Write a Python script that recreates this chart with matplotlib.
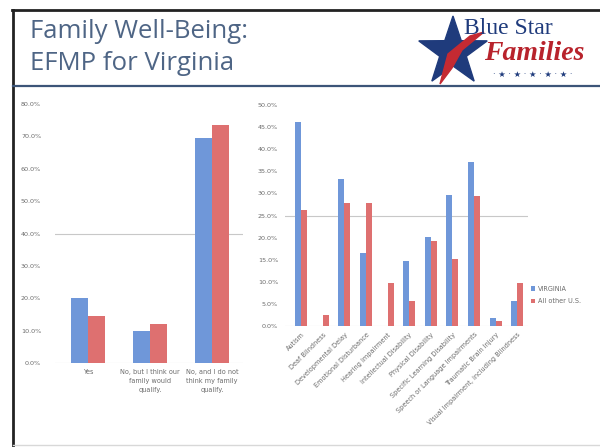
import matplotlib
matplotlib.use("Agg")
import matplotlib.pyplot as plt
import numpy as np
from matplotlib.patches import Polygon

# ---------------- data ----------------
left_categories = ["Yes", "No, but I think our\nfamily would\nqualify.",
                   "No, and I do not\nthink my family\nqualify."]
left_virginia = [20.0, 10.0, 69.5]
left_other = [14.5, 12.0, 73.5]
left_ticks = [0, 10, 20, 30, 40, 50, 60, 70, 80]

right_categories = ["Autism", "Deaf Blindness", "Developmental Delay",
                    "Emotional Disturbance", "Hearing Impairment",
                    "Intellectual Disability", "Physical Disability",
                    "Specific Learning Disability",
                    "Speech or Language Impairments",
                    "Traumatic Brain Injury",
                    "Visual Impairment, including Blindness"]
right_virginia = [46.2, 0.0, 33.3, 16.6, 0.0, 14.8, 20.2, 29.6, 37.1, 1.7, 5.7]
right_other = [26.3, 2.5, 27.8, 27.8, 9.7, 5.6, 19.3, 15.2, 29.4, 1.2, 9.7]
right_ticks = [0, 5, 10, 15, 20, 25, 30, 35, 40, 45, 50]

series_names = ["VIRGINIA", "All other U.S."]

BLUE = "#6f97d9"
RED = "#de7070"
TXT = "#6b6b6b"
W, H = 600, 447

fig = plt.figure(figsize=(6, 4.47), dpi=100)
fig.patch.set_facecolor("white")

def ax_rect(x0, y0, x1, y1):
    return [x0 / W, 1 - y1 / H, (x1 - x0) / W, (y1 - y0) / H]

# --------- decoration overlay (pixel coords) ---------
deco = fig.add_axes([0, 0, 1, 1], zorder=0)
deco.set_xlim(0, W)
deco.set_ylim(H, 0)
deco.axis("off")
deco.plot([12, 600], [10, 10], color="#222222", lw=2.0)
deco.plot([13, 13], [10, 447], color="#222222", lw=2.0)
deco.plot([13, 600], [86, 86], color="#3c5578", lw=1.6)
deco.plot([13, 600], [445, 445], color="#d8d8d8", lw=1.0)

fig.text(30 / W, 1 - 31 / H, "Family Well-Being:", family="Open Sans",
         fontsize=18.5, color="#4e6585", va="center", ha="left")
fig.text(30 / W, 1 - 63 / H, "EFMP for Virginia", family="Open Sans",
         fontsize=18.5, color="#4e6585", va="center", ha="left")

# logo star
cx, cy, ro, ri = 453, 52, 36, 14
pts = []
for k in range(10):
    ang = np.pi / 2 + k * np.pi / 5
    r = ro if k % 2 == 0 else ri
    pts.append((cx + r * np.cos(ang), cy - r * np.sin(ang)))
deco.add_patch(Polygon(pts, closed=True, color="#1f3b7c", zorder=1))
deco.add_patch(Polygon([(440, 84), (448, 54), (470, 36), (484, 32),
                        (462, 50), (452, 68)], closed=True,
                       color="#c42a32", zorder=2))
fig.text(464 / W, 1 - 29 / H, "Blue Star", family="Liberation Serif",
         fontsize=17, color="#1f3b7c", va="center", ha="left")
fig.text(484 / W, 1 - 53 / H, "Families", family="Liberation Serif",
         fontsize=20, color="#b8232c", va="center", ha="left",
         fontweight="bold", fontstyle="italic")
fig.text(533 / W, 1 - 74 / H,
         "\u00b7 \u2605 \u00b7 \u2605 \u00b7 \u2605 \u00b7 \u2605 \u00b7 \u2605 \u00b7",
         family="DejaVu Sans", fontsize=6, color="#1f3b7c",
         va="center", ha="center")

# ---------------- left chart ----------------
axL = fig.add_axes(ax_rect(55, 104, 243, 363), zorder=2)
x = np.arange(len(left_categories))
bw = 0.275
axL.bar(x - bw / 2, left_virginia, bw, color=BLUE, label=series_names[0])
axL.bar(x + bw / 2, left_other, bw, color=RED, label=series_names[1])
axL.set_ylim(0, 80)
axL.set_xlim(-0.53, 2.5)
axL.set_yticks(left_ticks)
axL.set_yticklabels([f"{v:.1f}%" for v in left_ticks])
axL.axhline(40, color="#c8c8c8", lw=0.8, zorder=0)
axL.axhline(0, color="#d0d0d0", lw=0.8, zorder=0)
axL.set_xticks(x)
axL.set_xticklabels(left_categories, fontsize=4.7, color=TXT,
                    linespacing=1.6)
axL.tick_params(axis="y", labelsize=4.6, labelcolor=TXT, length=0, pad=10)
axL.tick_params(axis="x", length=0, pad=4)
for s in axL.spines.values():
    s.set_visible(False)
axL.patch.set_alpha(0)

# ---------------- right chart ----------------
axR = fig.add_axes(ax_rect(285, 105, 528, 326), zorder=2)
xr = np.arange(len(right_categories))
bwr = 0.28
axR.bar(xr - bwr / 2, right_virginia, bwr, color=BLUE, label=series_names[0])
axR.bar(xr + bwr / 2, right_other, bwr, color=RED, label=series_names[1])
axR.set_ylim(0, 50)
axR.set_xlim(-0.75, 10.5)
axR.set_yticks(right_ticks)
axR.set_yticklabels([f"{v:.1f}%" for v in right_ticks])
axR.axhline(25, color="#c8c8c8", lw=0.8, zorder=0)
axR.axhline(0, color="#d0d0d0", lw=0.8, zorder=0)
axR.set_xticks(xr)
axR.set_xticklabels(right_categories, fontsize=4.7, color=TXT,
                    rotation=45, ha="right", rotation_mode="anchor")
axR.tick_params(axis="y", labelsize=4.6, labelcolor=TXT, length=0, pad=5)
axR.tick_params(axis="x", length=0, pad=4)
for s in axR.spines.values():
    s.set_visible(False)
axR.patch.set_alpha(0)

leg = axR.legend(loc="center left", bbox_to_anchor=(1.0, 0.14),
                 frameon=False, fontsize=4.7, handlelength=0.7,
                 handleheight=0.7, handletextpad=0.4, labelspacing=1.0,
                 borderaxespad=0)
for t in leg.get_texts():
    t.set_color(TXT)

fig.savefig("out.png", dpi=100, facecolor="white")
